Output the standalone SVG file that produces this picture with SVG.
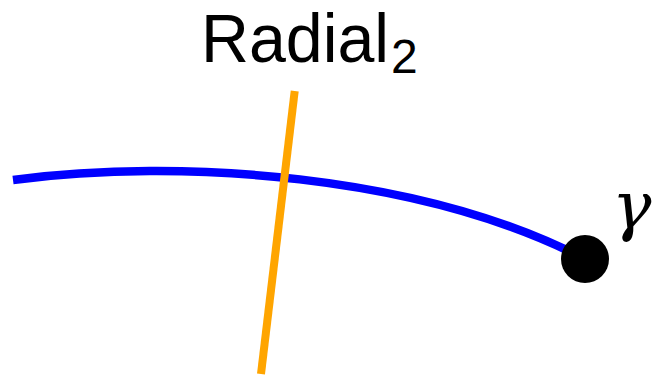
<svg xmlns="http://www.w3.org/2000/svg" width="657" height="378" viewBox="0 0 657 378">
<style>
.curve{fill:none;stroke:#0000ff;stroke-width:8.5}
.radial{fill:none;stroke:#ffa500;stroke-width:8}
.lbl{font-family:"Liberation Sans",Arial,sans-serif;fill:#000}
.gam{font-family:"DejaVu Serif",serif;font-style:italic;fill:#000}
</style>
<rect width="657" height="378" fill="#fff"/>
<g id="connectors">
<path id="gamma-curve" class="curve" d="M13,180 C180,158 420,174 585,259"/>
<path id="radial-line" class="radial" d="M294.7,91 L261,374"/>
</g>
<g id="radial-label">
<text class="lbl" x="201" y="62" font-size="68" textLength="188" lengthAdjust="spacingAndGlyphs">Radial</text>
<text class="lbl" x="391" y="73" font-size="48">2</text>
</g>
<g id="gamma-point">
<circle cx="585" cy="259" r="24" fill="#000"/>
<text class="gam" x="612" y="228" font-size="66">γ</text>
</g>
</svg>
